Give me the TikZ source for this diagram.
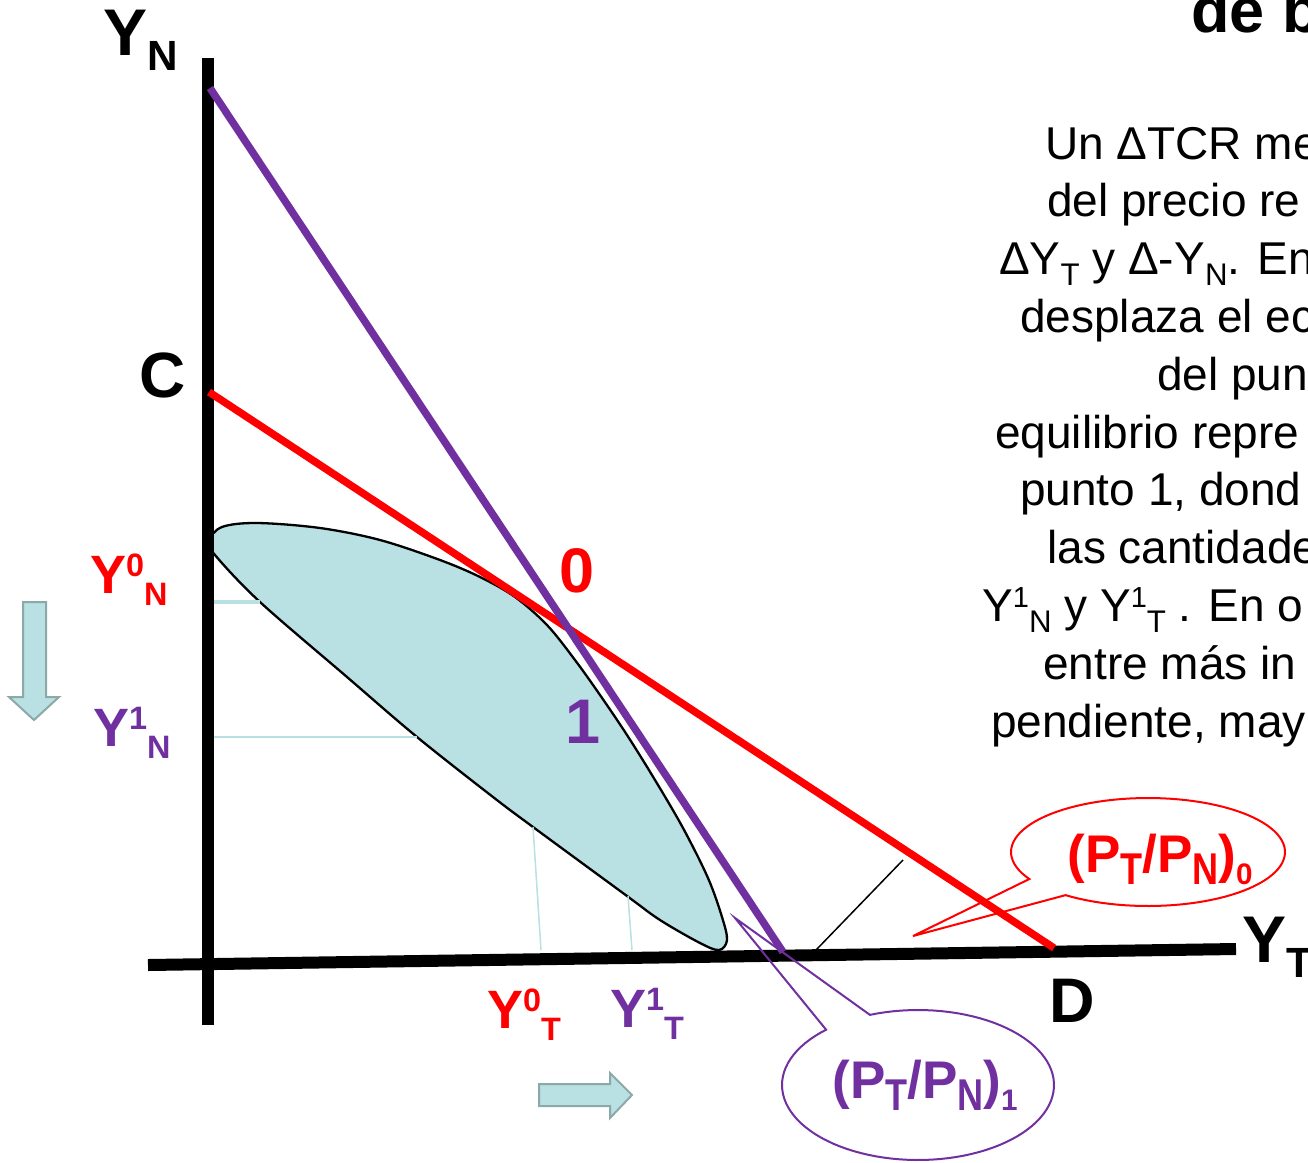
\documentclass[tikz,border=0pt]{standalone}
\usepackage{fontspec}
\setmainfont{Liberation Sans}
\usepackage{graphicx}
\definecolor{myred}{HTML}{FF0000}
\definecolor{mypurple}{HTML}{7030A0}
\definecolor{blobfill}{HTML}{B9E0E3}
\definecolor{arrowedge}{HTML}{8DA8A8}
\definecolor{projline}{HTML}{B9E0E3}
\newcommand\msub[2][0.62]{\raisebox{-0.24em}{\scalebox{#1}{#2}}}
\newcommand\msup[2][0.6]{\raisebox{0.3em}{\scalebox{#1}{#2}}}
\newcommand\csub[1]{\raisebox{-0.23em}{\scalebox{0.68}[0.84]{#1}}}
\newcommand\cend[1]{\raisebox{-0.23em}{\scalebox{0.56}{#1}}}
\begin{document}
\begin{tikzpicture}[x=1pt,y=-1pt,
  rt/.style={anchor=base west,inner sep=0pt,font=\fontsize{46}{55}\selectfont},
  biglab/.style={inner sep=0pt,font=\fontsize{#1}{#1}\selectfont\bfseries},
  biglab/.default=64,
  blockarrow/.style={fill=blobfill,draw=arrowedge,line width=2},
  proj/.style={draw=projline,line width=1.5},
  axisline/.style={line width=12,black},
  budget/.style={line width=7.5},
  bubble/.style={line width=2}]
\useasboundingbox (0,0) rectangle (1308,1162);

% feasible production set
\draw[fill=blobfill,line width=2.3] plot[smooth cycle,tension=0.55] coordinates {
 (209,541) (222,527) (257,523) (320,528) (380,540) (440,560) (480,577) (515,597)
 (547,625) (575,660) (600,695) (627,735) (655,780) (683,828) (708,878) (722,917)
 (727,940) (719,950) (700,943) (660,920) (627,896) (533,827)
 (493,797) (417,737) (347,677) (260,602) (215,555)};

% projection lines
\draw[draw=projline,line width=4] (208,602) -- (260,602);
\draw[proj] (208,737) -- (417,737);
\draw[proj] (533,827) -- (541,950);
\draw[proj] (628,896) -- (632,950);

% axes
\coordinate (ytop) at (208,58);
\coordinate (ybot) at (208,1025);
\coordinate (xleft) at (148,965);
\coordinate (xright) at (1236,949);
\draw[axisline] (ytop) -- (ybot);
\draw[axisline] (xleft) -- (xright);

% thin black line
\coordinate (k1) at (816,950);
\coordinate (k2) at (903,860);
\draw[line width=1.5] (k1) -- (k2);

% budget lines
\coordinate (C) at (209,392);
\coordinate (D) at (1054,948);
\coordinate (P0) at (210,88);
\coordinate (P1) at (783,952);
\draw[budget,myred] (C) -- (D);
\draw[budget,mypurple] (P0) -- (P1);

% callouts
\draw[bubble,myred] (913,936) -- plot[domain=150:487,samples=100,variable=\t]
  ({1148+137*cos(\t)},{852+54*sin(\t)}) -- cycle;
\draw[bubble,mypurple] (735,918) -- plot[domain=249.3:587.5,samples=100,variable=\t]
  ({918+136*cos(\t)},{1085+75*sin(\t)}) -- cycle;
\node[biglab=53,myred,anchor=base] (ptpn0) at (1160,872)
  {(P\csub{T}/P\csub{N})\cend{0}};
\node[biglab=53,mypurple,anchor=base] (ptpn1) at (925,1098)
  {(P\csub{T}/P\csub{N})\cend{1}};

% block arrows
\draw[blockarrow] (23,602) -- (46,602) -- (46,697) -- (59,697) -- (34,720)
  -- (9,697) -- (23,697) -- cycle;
\draw[blockarrow] (539,1084) -- (610,1084) -- (610,1073) -- (632,1095)
  -- (610,1118) -- (610,1106) -- (539,1106) -- cycle;

% axis labels
\node[biglab=66,anchor=base west] (lYN) at (103,55) {Y\msub[0.64]{N}};
\node[biglab=66,anchor=base west] (lYT) at (1242,962) {Y\msub[0.64]{T}};
\node[biglab=64,anchor=base] (lC) at (163,397) {C};
\node[biglab=63,anchor=base] (lD) at (1072,1022) {D};
\node[biglab=63,anchor=base,myred] (l0) at (577,592) {0};
\node[biglab=63,anchor=base,mypurple] (l1) at (583,743) {1};

\node[biglab=54,anchor=base west,myred] (y0n) at (90,593) {Y\msup{0}\msub[0.6]{N}};
\node[biglab=54,anchor=base west,mypurple] (y1n) at (93,746) {Y\msup{1}\msub[0.6]{N}};
\node[biglab=54,anchor=base west,myred] (y0t) at (487,1028) {Y\msup{0}\msub[0.6]{T}};
\node[biglab=54,anchor=base west,mypurple] (y1t) at (610,1027) {Y\msup{1}\msub[0.6]{T}};

% title (cut off)
\node[biglab=63,anchor=base west] (title) at (1191,32) {de b};

% explanatory text (cut off at right)
\node[rt] (t1) at (1045,159) {Un ΔTCR me};
\node[rt] (t2) at (1047,216.8) {del precio re};
\node[rt] (t3) at (999,274.6) {ΔY\msub[0.68]{T} y Δ-Y\msub[0.68]{N}. En};
\node[rt] (t4) at (1020,332.4) {desplaza el ec};
\node[rt] (t5) at (1157,390.2) {del pun};
\node[rt] (t6) at (995,448) {equilibrio repre};
\node[rt] (t7) at (1020,505.8) {punto 1, dond};
\node[rt] (t8) at (1047,563.6) {las cantidade};
\node[rt] (t9) at (982,621.4) {Y\msup[0.63]{1}\msub[0.68]{N} y Y\msup[0.63]{1}\msub[0.68]{T} . En o};
\node[rt] (t10) at (1043,679.2) {entre más in};
\node[rt] (t11) at (991,737) {pendiente, may};
\end{tikzpicture}
\end{document}
